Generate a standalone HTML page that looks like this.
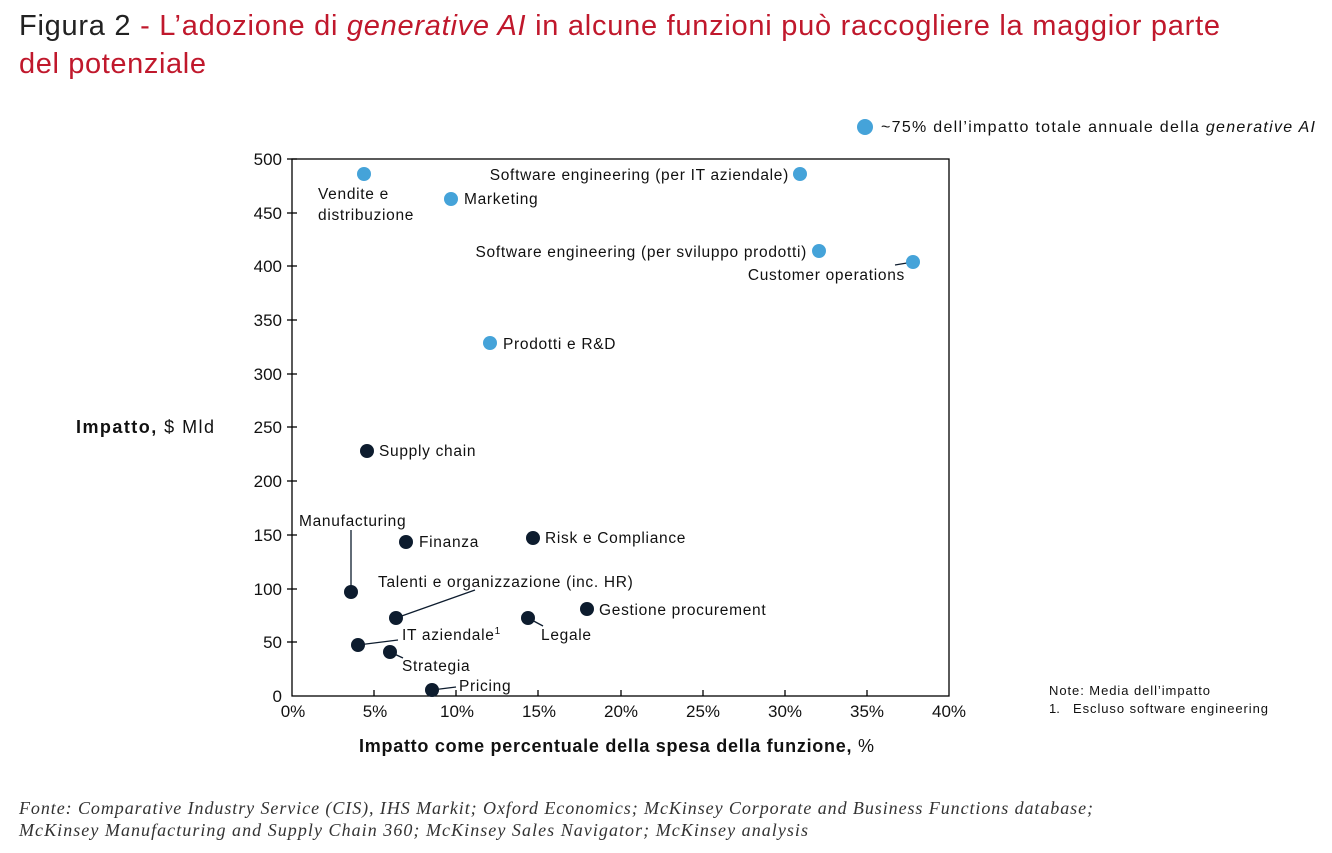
<!DOCTYPE html>
<html><head><meta charset="utf-8"><style>
body{margin:0;background:#fff;width:1332px;height:848px;overflow:hidden;}
</style></head><body>
<svg width="1332" height="848" xmlns="http://www.w3.org/2000/svg" font-family="Liberation Sans, sans-serif">
<text x="19" y="35" font-size="29" fill="#222" textLength="1201" lengthAdjust="spacing">Figura 2 <tspan fill="#c0182c"> - L’adozione di <tspan font-style="italic">generative AI</tspan> in alcune funzioni può raccogliere la maggior parte</tspan></text>
<text x="19" y="73" font-size="29" fill="#c0182c" textLength="187" lengthAdjust="spacing">del potenziale</text>

<circle cx="865" cy="127" r="8" fill="#45a3d9"/>
<text x="881" y="132" font-size="16" fill="#111" textLength="434" lengthAdjust="spacing">~75% dell’impatto totale annuale della <tspan font-style="italic">generative AI</tspan></text>

<rect x="292" y="159" width="657" height="537" fill="none" stroke="#000" stroke-width="1.3"/>
<g stroke="#000" stroke-width="1.3">
<line x1="287" y1="159" x2="297" y2="159"/><line x1="287" y1="213" x2="297" y2="213"/><line x1="287" y1="266" x2="297" y2="266"/><line x1="287" y1="320" x2="297" y2="320"/><line x1="287" y1="374" x2="297" y2="374"/><line x1="287" y1="427" x2="297" y2="427"/><line x1="287" y1="481" x2="297" y2="481"/><line x1="287" y1="535" x2="297" y2="535"/><line x1="287" y1="589" x2="297" y2="589"/><line x1="287" y1="642" x2="297" y2="642"/>
<line x1="374" y1="690" x2="374" y2="696"/><line x1="456" y1="690" x2="456" y2="696"/><line x1="538" y1="690" x2="538" y2="696"/><line x1="621" y1="690" x2="621" y2="696"/><line x1="703" y1="690" x2="703" y2="696"/><line x1="785" y1="690" x2="785" y2="696"/><line x1="867" y1="690" x2="867" y2="696"/>
</g>
<g font-size="17" fill="#111" text-anchor="end">
<text x="282" y="165">500</text><text x="282" y="219">450</text><text x="282" y="272">400</text><text x="282" y="326">350</text><text x="282" y="380">300</text><text x="282" y="433">250</text><text x="282" y="487">200</text><text x="282" y="541">150</text><text x="282" y="595">100</text><text x="282" y="648">50</text><text x="282" y="702">0</text>
</g>
<g font-size="17" fill="#111" text-anchor="middle">
<text x="293" y="717">0%</text><text x="375" y="717">5%</text><text x="457" y="717">10%</text><text x="539" y="717">15%</text><text x="621" y="717">20%</text><text x="703" y="717">25%</text><text x="785" y="717">30%</text><text x="867" y="717">35%</text><text x="949" y="717">40%</text>
</g>
<text x="76" y="433" font-size="18" fill="#111" textLength="138" lengthAdjust="spacing"><tspan font-weight="bold">Impatto,</tspan> $ Mld</text>
<text x="359" y="752" font-size="18" fill="#111" textLength="515" lengthAdjust="spacing"><tspan font-weight="bold">Impatto come percentuale della spesa della funzione,</tspan> %</text>

<g stroke="#0d1c2e" stroke-width="1.3">
<line x1="351" y1="592" x2="351" y2="530"/>
<line x1="396" y1="618" x2="475" y2="590"/>
<line x1="358" y1="645" x2="398" y2="640"/>
<line x1="390" y1="652" x2="403" y2="658"/>
<line x1="432" y1="690" x2="456" y2="687"/>
<line x1="528" y1="618" x2="543" y2="626"/>
<line x1="913" y1="262" x2="895" y2="265"/>
</g>
<g fill="#45a3d9">
<circle cx="364" cy="174" r="7"/><circle cx="451" cy="199" r="7"/><circle cx="800" cy="174" r="7"/><circle cx="819" cy="251" r="7"/><circle cx="913" cy="262" r="7"/><circle cx="490" cy="343" r="7"/>
</g>
<g fill="#0d1c2e">
<circle cx="367" cy="451" r="7"/><circle cx="351" cy="592" r="7"/><circle cx="406" cy="542" r="7"/><circle cx="533" cy="538" r="7"/><circle cx="396" cy="618" r="7"/><circle cx="528" cy="618" r="7"/><circle cx="587" cy="609" r="7"/><circle cx="358" cy="645" r="7"/><circle cx="390" cy="652" r="7"/><circle cx="432" cy="690" r="7"/>
</g>
<g font-size="15.5" fill="#111" letter-spacing="0.7">
<text x="318" y="199">Vendite e</text><text x="318" y="220">distribuzione</text>
<text x="464" y="204">Marketing</text>
<text x="789" y="180" text-anchor="end">Software engineering (per IT aziendale)</text>
<text x="807" y="257" text-anchor="end">Software engineering (per sviluppo prodotti)</text>
<text x="905" y="280" text-anchor="end">Customer operations</text>
<text x="503" y="349">Prodotti e R&amp;D</text>
<text x="379" y="456">Supply chain</text>
<text x="299" y="526">Manufacturing</text>
<text x="419" y="547">Finanza</text>
<text x="545" y="543">Risk e Compliance</text>
<text x="378" y="587">Talenti e organizzazione (inc. HR)</text>
<text x="599" y="615">Gestione procurement</text>
<text x="541" y="640">Legale</text>
<text x="402" y="640">IT aziendale<tspan font-size="10" dy="-6">1</tspan></text>
<text x="402" y="671">Strategia</text>
<text x="459" y="691">Pricing</text>
</g>
<text x="1049" y="695" font-size="13" fill="#111" textLength="161" lengthAdjust="spacing">Note: Media dell’impatto</text>
<text x="1049" y="713" font-size="13" fill="#111">1.</text>
<text x="1073" y="713" font-size="13" fill="#111" textLength="195" lengthAdjust="spacing">Escluso software engineering</text>
<text x="19" y="814" style="font-family:'Liberation Serif',serif;font-style:italic" font-size="18" fill="#333" textLength="1074" lengthAdjust="spacing">Fonte: Comparative Industry Service (CIS), IHS Markit; Oxford Economics; McKinsey Corporate and Business Functions database;</text>
<text x="19" y="836" style="font-family:'Liberation Serif',serif;font-style:italic" font-size="18" fill="#333" textLength="789" lengthAdjust="spacing">McKinsey Manufacturing and Supply Chain 360; McKinsey Sales Navigator; McKinsey analysis</text>
</svg>
</body></html>
